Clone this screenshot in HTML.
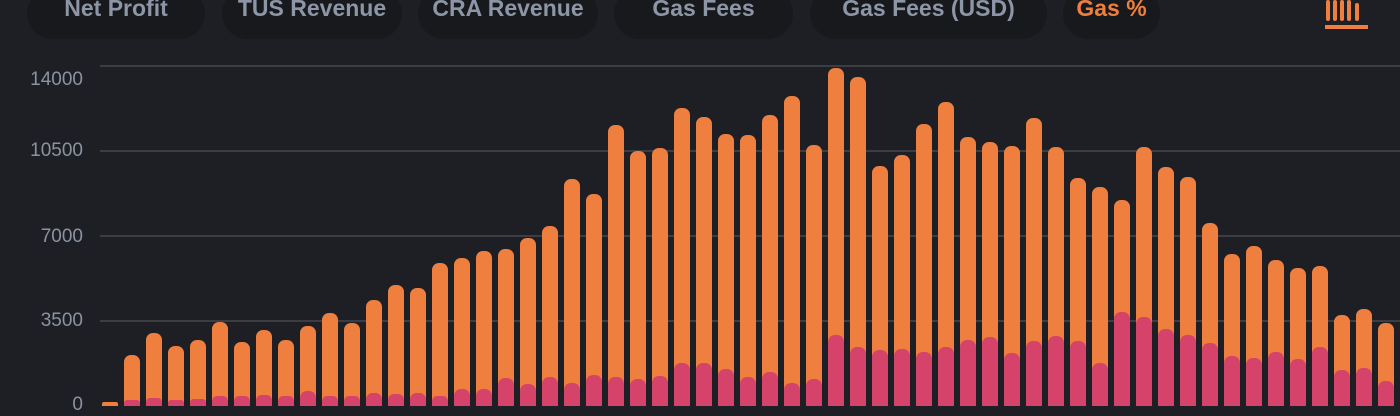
<!DOCTYPE html>
<html><head><meta charset="utf-8"><style>
body{margin:0;width:1400px;height:412px;background:#1e1f24;overflow:hidden;position:relative;font-family:"Liberation Sans",sans-serif}
.pill{position:absolute;top:-12px;height:51px;border-radius:26px;background:#18191c;color:#8c96a6;font-weight:bold;font-size:23px;display:flex;align-items:center;justify-content:center;box-sizing:border-box;padding-bottom:10px}
.lab{position:absolute;right:1317px;color:#8a93a0;font-size:19px;transform:translateY(-50%)}
</style></head><body>
<div class="pill" style="left:27px;width:178px">Net Profit</div>
<div class="pill" style="left:222px;width:180px">TUS Revenue</div>
<div class="pill" style="left:418px;width:180px">CRA Revenue</div>
<div class="pill" style="left:614px;width:179px">Gas Fees</div>
<div class="pill" style="left:810px;width:237px">Gas Fees (USD)</div>
<div class="pill" style="left:1063px;width:97px;color:#ef7f3e">Gas %</div>
<div class="lab" style="top:80px">14000</div>
<div class="lab" style="top:151px">10500</div>
<div class="lab" style="top:237px">7000</div>
<div class="lab" style="top:321px">3500</div>
<div class="lab" style="top:405px">0</div>
<svg id="s" width="1400" height="412" style="position:absolute;left:0;top:0">
<g fill="#ef7f3e"><rect x="1326" y="0" width="4" height="21" rx="2"/><rect x="1333" y="0" width="4" height="21" rx="2"/><rect x="1340" y="0" width="4" height="21" rx="2"/><rect x="1347" y="0" width="4" height="21" rx="2"/><rect x="1355" y="3" width="4" height="18" rx="2"/><rect x="1325" y="25" width="43" height="4"/></g>
<g stroke="#3b3d43" stroke-width="2"><line x1="100" y1="66" x2="1400" y2="66"/><line x1="100" y1="151" x2="1400" y2="151"/><line x1="100" y1="236" x2="1400" y2="236"/><line x1="100" y1="321" x2="1400" y2="321"/></g>
<g id="b"></g>
</svg>
<script>
var o=[402,355,333,346,340,322,342,330,340,326,313,323,300,285,288,263,258,251,249,238,226,179,194,125,151,148,108,117,134,135,115,96,145,68,77,166,155,124,102,137,142,146,118,147,178,187,200,147,167,177,223,254,246,260,268,266,315,309,323];
var p=[405,400,398,400,399,396,396,395,396,391,396,396,393,394,393,396,389,389,378,384,377,383,375,377,379,376,363,363,369,377,372,383,379,335,347,350,349,352,347,340,337,353,341,336,341,363,312,317,329,335,343,356,358,352,359,347,370,368,381];
var h='';for(var i=0;i<59;i++){var x=102+22*i;
h+='<path fill="#ef7f3e" d="'+r(x,o[i],406)+'"/>';
if(p[i]<404)h+='<path fill="#d6436a" d="'+r(x,p[i],406)+'"/>';}
function r(x,t,b){var w=16,R=Math.min(7,(b-t)/2,w/2);return 'M'+x+' '+b+'V'+(t+R)+'A'+R+' '+R+' 0 0 1 '+(x+R)+' '+t+'H'+(x+w-R)+'A'+R+' '+R+' 0 0 1 '+(x+w)+' '+(t+R)+'V'+b+'Z';}
document.getElementById('b').innerHTML=h;
</script>
</body></html>
